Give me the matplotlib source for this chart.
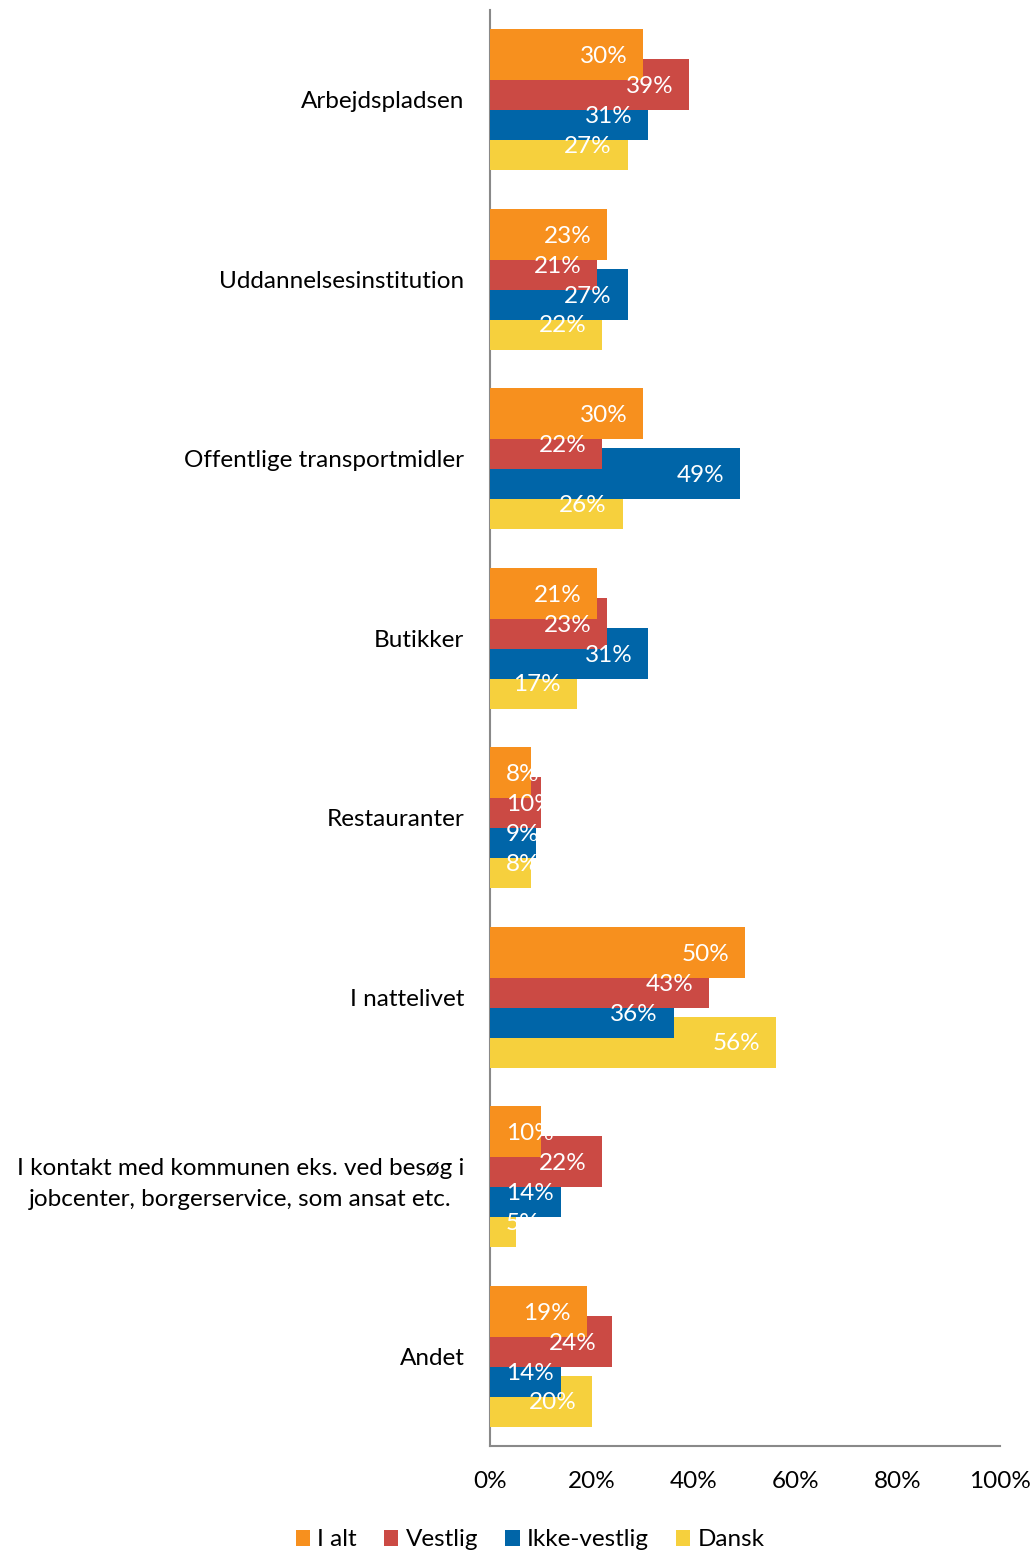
import matplotlib
matplotlib.use('Agg')
import numpy as np
from matplotlib import pyplot as plt
from matplotlib.patches import Patch

plt.rcParams['font.family'] = ['Lato', 'DejaVu Sans']

categories = [
    'Arbejdspladsen',
    'Uddannelsesinstitution',
    'Offentlige transportmidler',
    'Butikker',
    'Restauranter',
    'I nattelivet',
    'I kontakt med kommunen eks. ved besøg i\njobcenter, borgerservice, som ansat etc.',
    'Andet',
]
series_names = ['I alt', 'Vestlig', 'Ikke-vestlig', 'Dansk']
i_alt = [30, 23, 30, 21, 8, 50, 10, 19]
vestlig = [39, 21, 22, 23, 10, 43, 22, 24]
ikke_vestlig = [31, 27, 49, 31, 9, 36, 14, 14]
dansk = [27, 22, 26, 17, 8, 56, 5, 20]
x_ticks = [0, 20, 40, 60, 80, 100]

colors = ['#F7901E', '#CB4A44', '#0065A8', '#F6D03D']
series = [i_alt, vestlig, ikke_vestlig, dansk]

fig = plt.figure(figsize=(10.35, 15.51), dpi=100)
ax = fig.add_axes([490 / 1035, 1 - 1446 / 1551, 510 / 1035, 1436 / 1551])

y = np.arange(len(categories))
bar_h = 0.284
offsets = [-0.25, -0.0836, 0.0836, 0.25]

# later series sit underneath the earlier ones
for i, (vals, col, off) in enumerate(zip(series, colors, offsets)):
    ax.barh(y + off, vals, height=bar_h, color=col, zorder=10 - i)

# data labels, inside end
fs = 17.5
pad = 3.1
for vals, off in zip(series, offsets):
    for yi, v in zip(y, vals):
        txt = f'{v}%'
        w = 6.0 if v < 10 else 9.0
        if v - pad - w < pad:
            ax.text(pad, yi + off + 0.01, txt, ha='left', va='center', color='white',
                    fontsize=fs, zorder=20)
        else:
            ax.text(v - pad, yi + off + 0.01, txt, ha='right', va='center', color='white',
                    fontsize=fs, zorder=20)

ax.set_xlim(0, 100)
ax.set_ylim(len(categories) - 0.5, -0.5)
ax.set_xticks(x_ticks)
ax.set_xticklabels([f'{t}%' for t in x_ticks])
ax.set_yticks(y)
ax.set_yticklabels(categories, multialignment='center', linespacing=1.6)
ax.tick_params(axis='both', length=0, labelsize=fs, colors='black')
ax.tick_params(axis='y', pad=18.5)
ax.tick_params(axis='x', pad=18)

for s in ['top', 'right']:
    ax.spines[s].set_visible(False)
for s in ['left', 'bottom']:
    ax.spines[s].set_color('#898989')
    ax.spines[s].set_linewidth(1.5)

handles = [Patch(facecolor=c, label=n) for c, n in zip(colors, series_names)]
fig.legend(handles=handles, loc='center', bbox_to_anchor=(530 / 1035, 1 - 1540 / 1551),
           ncol=4, frameon=False, fontsize=fs, handlelength=0.6, handleheight=0.6,
           handletextpad=0.3, columnspacing=1.1)

fig.savefig('out.png', dpi=100)
